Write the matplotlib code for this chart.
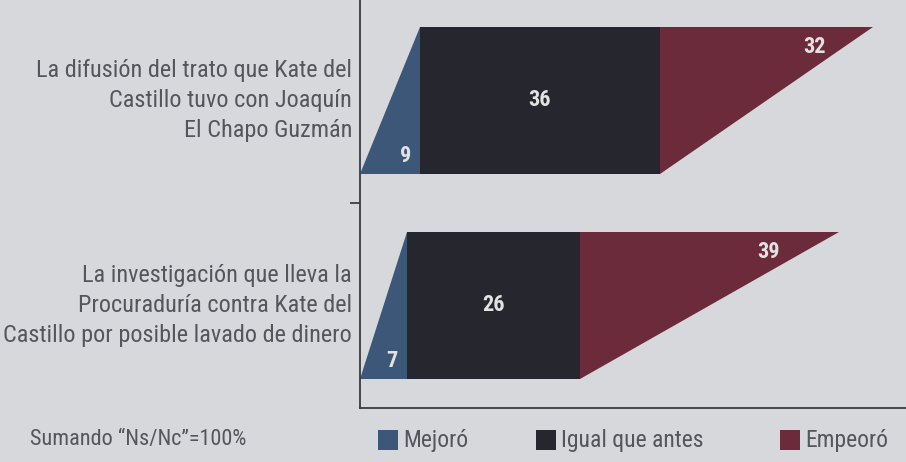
import matplotlib.pyplot as plt
from matplotlib.patches import Rectangle

categories = ["La difusión del trato que Kate del\nCastillo tuvo con Joaquín\nEl Chapo Guzmán",
              "La investigación que lleva la\nProcuraduría contra Kate del\nCastillo por posible lavado de dinero"]
mejoro = [9, 7]
igual = [36, 26]
empeoro = [32, 39]
series_names = ["Mejoró", "Igual que antes", "Empeoró"]
colors = ["#3d5779", "#26272e", "#6b2b3b"]
note = "Sumando \u201cNs/Nc\u201d=100%"

bg = "#d7d8dc"
txt = "#53565c"
plt.rcParams["font.family"] = ["Roboto Condensed", "DejaVu Sans"]

fig = plt.figure(figsize=(9.06, 4.62), dpi=100, facecolor=bg)
ax = fig.add_axes([360 / 906, 54 / 462, 546 / 906, 408 / 462])
ax.set_facecolor(bg)

ypos = [1, 0]
h = 0.72
for y, a, b, c in zip(ypos, mejoro, igual, empeoro):
    lo, hi = y - h / 2, y + h / 2
    # slanted left piece
    ax.fill([0, a, a], [lo, lo, hi], color=colors[0], lw=0)
    ax.barh(y, b, left=a, height=h, color=colors[1], lw=0)
    # slanted right piece
    ax.fill([a + b, a + b, a + b + c], [lo, hi, hi], color=colors[2], lw=0)
    ax.text(a - 2.2, lo + 0.09, str(a), color="#e2e2e2", fontsize=16,
            fontweight="bold", ha="center", va="center")
    ax.text(a + b / 2, y, str(b), color="#e2e2e2", fontsize=16,
            fontweight="bold", ha="center", va="center")
    ax.text(a + b + c - 0.275 * c, hi - 0.1, str(c), color="#e2e2e2", fontsize=16,
            fontweight="bold", ha="center", va="center")

ax.set_xlim(0, 82)
ax.set_ylim(-0.5, 1.49)
ax.set_xticks([])
ax.set_yticks([0.5])
ax.set_yticklabels([])
ax.tick_params(axis="y", length=7, width=1.2, color="#333333")
for s in ["top", "right"]:
    ax.spines[s].set_visible(False)
for s in ["left", "bottom"]:
    ax.spines[s].set_color("#3a3a40")
    ax.spines[s].set_linewidth(1.3)

for y, lab in zip(ypos, categories):
    ax.text(-1.2, y, lab, ha="right", va="center", fontsize=17.5, color=txt,
            linespacing=1.38, transform=ax.transData, clip_on=False)

# bottom legend row
fig.text(30 / 906, 1 - 440 / 462, note, fontsize=16, color=txt, va="center")
legend_x = [378, 536, 780]
for x0, name, col in zip(legend_x, series_names, colors):
    fig.patches.append(Rectangle((x0 / 906, 1 - 450 / 462), 20 / 906, 20 / 462,
                                 transform=fig.transFigure, color=col, lw=0))
    fig.text((x0 + 25) / 906, 1 - 440 / 462, name, fontsize=17, color=txt, va="center")

fig.savefig("out.png", dpi=100, facecolor=bg)
